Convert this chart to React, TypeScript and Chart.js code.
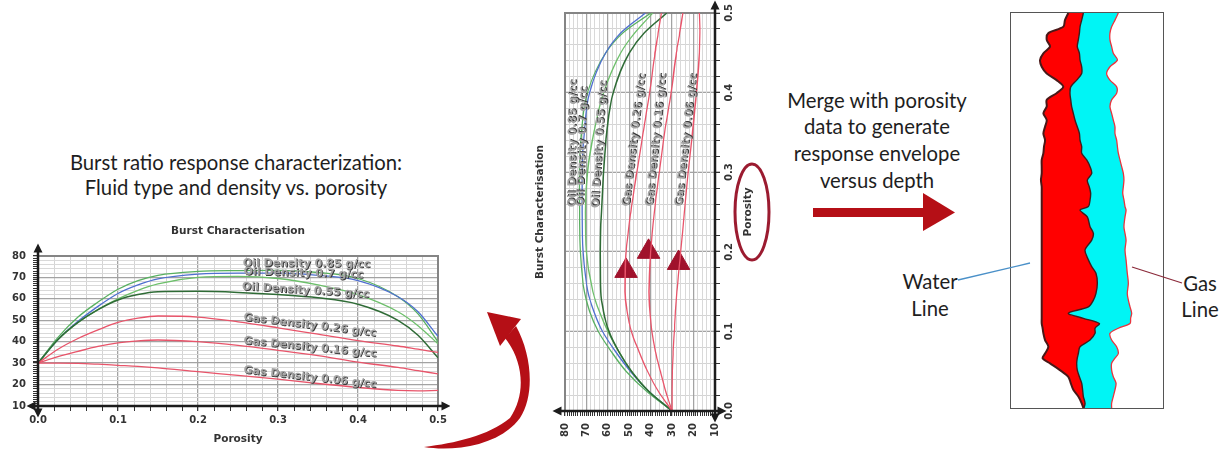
import React, { useEffect, useRef } from 'react';
import { Chart, registerables } from 'chart.js';
Chart.register(...registerables);

// ---------- Burst characterisation data (porosity vs burst) ----------
const POROSITY = [0, 0.025, 0.05, 0.075, 0.1, 0.125, 0.15, 0.2, 0.25, 0.3, 0.35, 0.4, 0.45, 0.475, 0.5];
const OIL_085_GREEN = [30, 42, 51.5, 58.5, 64.5, 68.5, 71, 72.8, 73.2, 73.3, 72.3, 69.5, 61, 53, 40];
const OIL_07_BLUE = [30, 41, 49.5, 56.5, 62.5, 66.5, 69.3, 71.5, 72, 72, 71, 68.5, 61, 54, 42.5];
const OIL_07_GREEN = [30, 41, 49, 55, 60, 64, 67, 70, 70.5, 69.5, 66.5, 62, 54, 47.5, 39];
const OIL_055_DARK = [30, 41, 49, 55, 59.5, 62, 63.3, 63.5, 63, 62, 60.5, 57.5, 50, 43, 32.5];
const GAS_026 = [30, 36.5, 41.5, 45.5, 49, 51, 52, 51.5, 49.3, 46.5, 43.5, 40.5, 38, 36.5, 35];
const GAS_016 = [30, 33, 35.5, 37.8, 39.5, 40.4, 40.8, 40, 38.3, 36, 33.5, 30.5, 28, 26.5, 25];
const GAS_006 = [30, 30, 29.9, 29.5, 29, 28.5, 27.8, 26, 24.3, 22.5, 20.5, 18.7, 17.3, 17.1, 17.3];

const CURVE_LABELS = ['Oil Density 0.85 g/cc', 'Oil Density 0.7 g/cc', 'Oil Density 0.55 g/cc', 'Gas Density 0.26 g/cc', 'Gas Density 0.16 g/cc', 'Gas Density 0.06 g/cc'];
const LABEL_POROSITY = [0.256, 0.257, 0.255, 0.257, 0.257, 0.257];
const LABEL_BURST = [76.6, 72.7, 65.7, 51.4, 40.5, 26.8];
const LABEL_ANGLE = [0.5, 1.5, 3.5, 6.8, 5.7, 6.3];

const MARKER_POROSITY = [0.176, 0.2, 0.186];
const MARKER_BURST = [51.5, 41, 27];

// ---------- Response envelope vs depth ----------
const DEPTH = [0, 1.8, 3.5, 5.1, 6.8, 8.5, 10.2, 11.9, 13.6, 15.3, 17, 18.7, 20.3, 22, 23.7, 25.4, 27.1, 28.8, 30.5, 32.2, 33.8, 35.5, 37.2, 38.9, 40.6, 42.3, 44, 45.6, 47.3, 49, 49.9, 51.6, 54.1, 55.8, 57.5, 60, 62.5, 64.2, 65.9, 68.4, 71, 72.7, 74.4, 76, 77.3, 78.6, 79.8, 81.1, 82.8, 84.5, 86.2, 87.4, 88.7, 90.4, 92.1, 93.7, 95.4, 97.1, 98.8, 100];
const WATER_LINE = [37.7, 35.5, 34.4, 24.6, 23.5, 25.7, 21.3, 19.1, 20.2, 23.5, 30, 34.4, 30, 23.5, 23.5, 21.3, 23.5, 22.4, 21.3, 22.4, 21.7, 21.3, 20.2, 20.2, 20.2, 19.7, 20.2, 20.2, 20.2, 20.2, 20.2, 20.2, 20.2, 20.2, 20.2, 20.2, 20.2, 20.2, 20.2, 20.2, 20.2, 20.2, 20.2, 20.2, 20.2, 20.2, 20.8, 21.3, 22.4, 24.6, 22.4, 20.8, 25.7, 32.2, 37.7, 39.3, 41, 44.3, 46.5, 47.6];
const MID_LINE = [47.6, 46.5, 45.4, 45, 44.3, 43.6, 45, 45.4, 46.5, 46.5, 43.2, 39.3, 38.8, 39.3, 39.9, 41, 42.1, 43.6, 45, 45.4, 46.5, 46.5, 49.8, 52, 53.1, 50.2, 51.5, 52.4, 52, 50.9, 45.4, 50.2, 52, 54.2, 53.1, 48.7, 50.9, 53.1, 55.9, 56.8, 55.9, 54.2, 50.9, 37.7, 47.6, 58.1, 55.3, 55.3, 52, 45.4, 44.3, 43.6, 43.2, 43.6, 45, 46.5, 47.1, 47.6, 48.7, 48];
const GAS_LINE = [70.6, 68.4, 66.2, 65.1, 65.1, 66.2, 67.3, 70, 65.1, 62.9, 65.1, 69.5, 69.5, 66.2, 65.1, 66.2, 67.3, 68.4, 68.4, 69.5, 70, 70.6, 71.7, 72.8, 73.9, 74.3, 73.9, 73.5, 74.3, 75, 75.7, 75, 74.3, 75, 75.7, 75, 75.7, 76.1, 76.5, 77.2, 76.5, 77.2, 78.3, 79.4, 78.7, 78.3, 70.6, 65.1, 66.2, 69.5, 70.6, 68.4, 66.2, 66.2, 67.3, 69.1, 68.4, 67.3, 66.2, 66.2];

const FONT_FAMILY = '"DejaVu Sans", Verdana, sans-serif';
const TICK_FONT = { family: FONT_FAMILY, size: 10, weight: 'bold' as const };

const isMult = (v: number, m: number) => Math.abs(v / m - Math.round(v / m)) < 1e-6;

function tri(ctx: CanvasRenderingContext2D, x: number, y: number, dir: string) {
  const s = 4.5;
  ctx.beginPath();
  if (dir === 'up') { ctx.moveTo(x, y - s); ctx.lineTo(x - s, y + s); ctx.lineTo(x + s, y + s); }
  if (dir === 'down') { ctx.moveTo(x, y + s); ctx.lineTo(x - s, y - s); ctx.lineTo(x + s, y - s); }
  if (dir === 'left') { ctx.moveTo(x - s, y); ctx.lineTo(x + s, y - s); ctx.lineTo(x + s, y + s); }
  if (dir === 'right') { ctx.moveTo(x + s, y); ctx.lineTo(x - s, y - s); ctx.lineTo(x - s, y + s); }
  ctx.closePath();
  ctx.fill();
}

const burstDecor = {
  id: 'burstDecor',
  beforeDatasetsDraw(chart: any) {
    const { ctx, chartArea: a } = chart;
    ctx.save();
    ctx.strokeStyle = '#858585';
    ctx.lineWidth = 2;
    ctx.beginPath();
    ctx.moveTo(a.left, a.top);
    ctx.lineTo(a.right, a.top);
    ctx.lineTo(a.right, a.bottom);
    ctx.stroke();
    ctx.restore();
  },
  afterDatasetsDraw(chart: any) {
    const { ctx, chartArea: a, scales } = chart;
    ctx.save();
    ctx.font = 'bold 11px "DejaVu Sans", Verdana, sans-serif';
    ctx.textBaseline = 'middle';
    ctx.textAlign = 'left';
    CURVE_LABELS.forEach((t, i) => {
      const x = scales.x.getPixelForValue(LABEL_POROSITY[i]);
      const y = scales.y.getPixelForValue(LABEL_BURST[i]);
      ctx.save();
      ctx.translate(x, y);
      ctx.rotate((LABEL_ANGLE[i] * Math.PI) / 180);
      ctx.fillStyle = '#3a3a3a';
      ctx.fillText(t, 0.9, 0.9);
      ctx.fillStyle = '#a5a5a5';
      ctx.fillText(t, 0, 0);
      ctx.restore();
    });
    ctx.strokeStyle = '#1c1c1c';
    ctx.fillStyle = '#1c1c1c';
    ctx.lineWidth = 2.5;
    ctx.beginPath();
    ctx.moveTo(a.left, a.top - 4);
    ctx.lineTo(a.left, a.bottom + 4);
    ctx.moveTo(a.left - 4, a.bottom);
    ctx.lineTo(a.right + 5, a.bottom);
    ctx.stroke();
    tri(ctx, a.left, a.top - 8, 'up');
    tri(ctx, a.left, a.bottom + 7, 'down');
    tri(ctx, a.left - 7, a.bottom, 'left');
    tri(ctx, a.right + 8, a.bottom, 'right');
    ctx.restore();
  },
};

function curve(values: number[], color: string, width = 1.3) {
  return {
    data: POROSITY.map((p, i) => ({ x: p, y: values[i] })),
    borderColor: color,
    borderWidth: width,
    pointRadius: 0,
    fill: false,
    cubicInterpolationMode: 'monotone' as const,
  };
}

function makeBurstConfig(withMarkers: boolean): any {
  const datasets: any[] = [
    curve(GAS_006, '#e8546a'),
    curve(GAS_016, '#e8546a'),
    curve(GAS_026, '#e8546a'),
    curve(OIL_055_DARK, '#2f6b36', 1.5),
    curve(OIL_07_GREEN, '#6cbf6a'),
    curve(OIL_07_BLUE, '#4f6fd0'),
    curve(OIL_085_GREEN, '#58b060'),
  ];
  if (withMarkers) {
    datasets.push({
      data: MARKER_POROSITY.map((p, i) => ({ x: p, y: MARKER_BURST[i] })),
      showLine: false,
      pointStyle: 'triangle',
      pointRadius: 13,
      rotation: 90,
      backgroundColor: '#a0122c',
      borderColor: '#a0122c',
      borderWidth: 1,
    });
  }
  return {
    type: 'line',
    data: { datasets },
    plugins: [burstDecor],
    options: {
      animation: false,
      responsive: false,
      layout: { padding: { left: 0, right: 12, top: 0, bottom: 0 } },
      plugins: {
        legend: { display: false },
        tooltip: { enabled: false },
        title: {
          display: true,
          fullSize: false,
          text: 'Burst Characterisation',
          color: '#333',
          font: { family: FONT_FAMILY, size: 10.5, weight: 'bold' },
          padding: { top: 3, bottom: 18.4 },
        },
      },
      scales: {
        x: {
          type: 'linear',
          min: 0,
          max: 0.5,
          ticks: {
            stepSize: 0.02,
            autoSkip: false,
            maxRotation: 0,
            padding: 3,
            color: '#333',
            font: TICK_FONT,
            callback: (v: number) => (isMult(v, 0.1) ? v.toFixed(1) : ''),
          },
          grid: {
            color: (c: any) => (isMult(c.tick.value, 0.1) ? '#a3a3a3' : '#d4d4d4'),
            lineWidth: (c: any) => (isMult(c.tick.value, 0.1) ? 1.3 : 1),
            tickColor: '#333',
            tickLength: 5,
          },
          border: { display: false },
          title: {
            display: true,
            text: 'Porosity',
            color: '#333',
            font: { family: FONT_FAMILY, size: 10.5, weight: 'bold' },
            padding: { top: 0, bottom: 4 },
          },
          afterFit: (s: any) => { s.height = 44; },
        },
        y: {
          type: 'linear',
          min: 10,
          max: 80,
          ticks: {
            stepSize: 1,
            autoSkip: false,
            padding: 7,
            color: '#333',
            font: TICK_FONT,
            callback: (v: number) => (isMult(v, 10) ? String(v) : ''),
          },
          grid: {
            color: (c: any) => {
              const v = c.tick.value;
              if (isMult(v, 10)) return '#a3a3a3';
              if (isMult(v, 2)) return '#d9d9d9';
              return 'rgba(0,0,0,0)';
            },
            lineWidth: (c: any) => (isMult(c.tick.value, 10) ? 1.3 : 1),
            tickColor: '#333',
            tickLength: 5,
          },
          border: { display: false },
          afterFit: (s: any) => { s.width = 38; },
        },
      },
    },
  };
}

function BurstChart({ markers }: { markers: boolean }) {
  const ref = useRef<HTMLCanvasElement>(null);
  useEffect(() => {
    const chart = new Chart(ref.current as HTMLCanvasElement, makeBurstConfig(markers));
    return () => chart.destroy();
  }, [markers]);
  return <canvas ref={ref} width={450} height={228} style={{ display: 'block', width: 450, height: 228 }} />;
}

function EnvelopeChart() {
  const ref = useRef<HTMLCanvasElement>(null);
  useEffect(() => {
    const line = (vals: number[]) => DEPTH.map((d, i) => ({ x: vals[i], y: d }));
    const chart = new Chart(ref.current as HTMLCanvasElement, {
      type: 'line',
      data: {
        datasets: [
          { label: 'Water Line', data: line(WATER_LINE), borderColor: '#4a1818', borderWidth: 2, pointRadius: 0, tension: 0.3, fill: false },
          { label: 'Mid', data: line(MID_LINE), borderColor: '#3d1c1c', borderWidth: 1.4, pointRadius: 0, tension: 0.3, fill: '-1', backgroundColor: '#ff0000' },
          { label: 'Gas Line', data: line(GAS_LINE), borderColor: '#e8343e', borderWidth: 1.3, pointRadius: 0, tension: 0.3, fill: '-1', backgroundColor: '#00f5f5' },
        ],
      },
      options: {
        animation: false,
        responsive: false,
        indexAxis: 'y',
        layout: { padding: 0 },
        plugins: { legend: { display: false }, tooltip: { enabled: false } },
        scales: {
          x: { type: 'linear', min: 0, max: 100, display: false },
          y: { type: 'linear', min: 0, max: 100, reverse: true, display: false },
        },
      },
    } as any);
    return () => chart.destroy();
  }, []);
  return <canvas ref={ref} width={152} height={395} style={{ display: 'block', width: 152, height: 395 }} />;
}

const textStyle: React.CSSProperties = {
  position: 'absolute',
  textAlign: 'center',
  color: '#1e1e1e',
  fontFamily: 'Lato, "Noto Sans", sans-serif',
  fontSize: 20.3,
  whiteSpace: 'nowrap',
};

export default function App() {
  return (
    <div style={{ position: 'absolute', left: 0, top: 0, width: 1228, height: 453, background: '#fff', overflow: 'hidden' }}>
      <div style={{ position: 'absolute', left: 0, top: 222 }}>
        <BurstChart markers={false} />
      </div>
      <div style={{ position: 'absolute', left: 420, top: 110, width: 450, height: 228, transform: 'rotate(-90deg)', transformOrigin: '50% 50%' }}>
        <BurstChart markers={true} />
      </div>
      <div style={{ position: 'absolute', left: 1010, top: 12, width: 152, height: 395, border: '1px solid #555' }}>
        <EnvelopeChart />
      </div>

      <div style={{ ...textStyle, left: 36, top: 149.5, width: 400, lineHeight: '25px' }}>
        Burst ratio response characterization:<br />Fluid type and density vs. porosity
      </div>
      <div style={{ ...textStyle, left: 777, top: 86.5, width: 200, lineHeight: '26.7px' }}>
        Merge with porosity<br />data to generate<br />response envelope<br />versus depth
      </div>
      <div style={{ ...textStyle, left: 880, top: 268, width: 100, lineHeight: '27px' }}>
        Water<br />Line
      </div>
      <div style={{ ...textStyle, left: 1170, top: 270, width: 60, lineHeight: '26px' }}>
        Gas<br />Line
      </div>

      <svg width={1228} height={453} style={{ position: 'absolute', left: 0, top: 0, pointerEvents: 'none' }}>
        <path d="M 424 447 C 455 452, 500 445, 520 418 C 535 395, 532 355, 516 326 L 505 338 C 524 362, 526 395, 510 418 C 488 436, 455 443, 424 447 Z" fill="#b50f16" />
        <path d="M 487 312 L 500 346 L 521 319 Z" fill="#b50f16" />
        <rect x={813} y={208} width={111} height={9} fill="#b50f16" />
        <path d="M 923 193 L 955 212.5 L 923 231 Z" fill="#b50f16" />
        <ellipse cx={752} cy={212} rx={17} ry={48} fill="none" stroke="#9b1b30" strokeWidth={3} />
        <line x1={958} y1={280} x2={1030} y2={263} stroke="#4a90c8" strokeWidth={1.3} />
        <line x1={1132} y1={267} x2={1182} y2={283} stroke="#8b2a3a" strokeWidth={1.3} />
      </svg>
    </div>
  );
}
